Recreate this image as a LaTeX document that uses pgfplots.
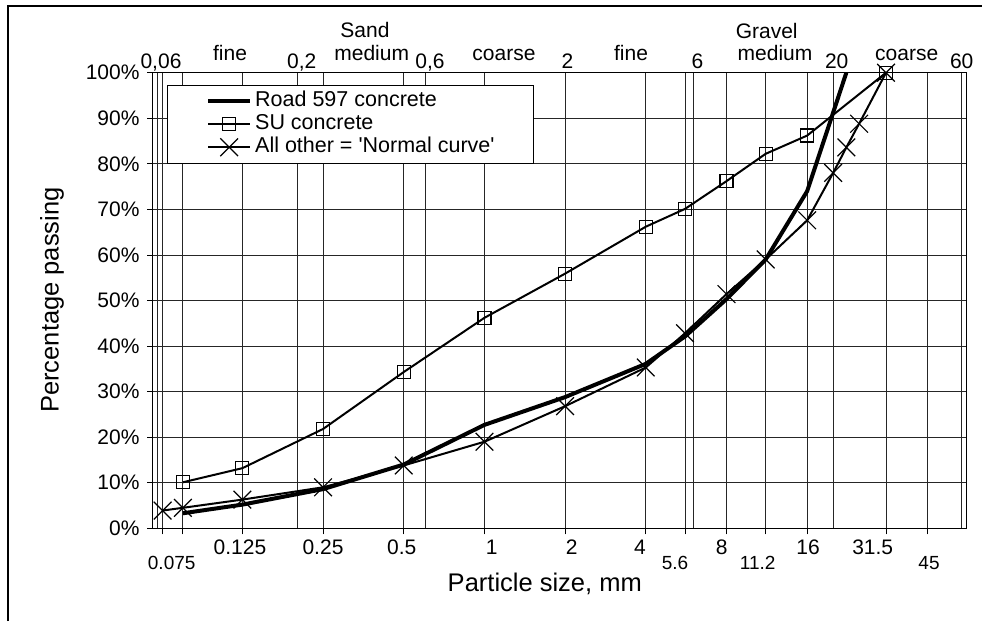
\documentclass[border=0pt]{standalone}
\usepackage{fontspec}
\setmainfont{Liberation Sans}
\usepackage{pgfplots}
\pgfplotsset{compat=1.18}
\begin{document}
\begin{tikzpicture}
\useasboundingbox (0pt,0pt) rectangle (982pt,-621pt);
\fill[white] (0pt,0pt) rectangle (982pt,-621pt);
\draw[line width=2pt] (8pt,-621pt) -- (8pt,-6pt) -- (983pt,-6pt);
\begin{axis}[
  at={(153pt,-528.3pt)}, anchor=south west,
  width=813.7pt, height=455.6pt, scale only axis,
  xmode=log, xmin=0.058, xmax=63, ymin=0, ymax=100,
  xtick={0.063,0.075,0.125,0.25,0.5,1,2,4,5.6,8,11.2,16,31.5,45},
  xticklabel={\relax},
  extra x ticks={0.06,0.2,0.6,6,20,60},
  extra x tick style={major tick length=0pt, grid=major, xticklabel={\relax}},
  xmajorgrids, ymajorgrids,
  ytick={0,10,...,100},
  yticklabels={0\%,10\%,20\%,30\%,40\%,50\%,60\%,70\%,80\%,90\%,100\%},
  tick align=outside, major tick length=6pt,
  xtick pos=bottom, ytick pos=left,
  grid style={black!85, line width=0.8pt},
  axis line style={black, line width=1pt},
  tick style={black, line width=0.8pt},
  yticklabel style={font=\fontsize{21}{24}\selectfont, xshift=-4pt},
  clip mode=individual,
  legend cell align=left,
  legend image code/.code={\draw[mark repeat=2,mark phase=2] plot coordinates {(0pt,0pt) (21pt,0pt) (42pt,0pt)};},
  legend style={at={(0.0168,0.973)}, anchor=north west, draw=black, line width=1pt, fill=white,
    inner xsep=39pt, inner ysep=6pt, font=\fontsize{21.5}{24}\selectfont,
    row sep=3.5pt, column sep=3pt,
    nodes={inner sep=0pt, text height=15pt, text depth=4.5pt}},
]
\addplot[black, line width=4pt, mark=none] coordinates {
  (0.075,3.3) (0.125,5.2) (0.25,8.6) (0.5,14) (1,22.7) (2,28.8) (4,36.1)
  (5.6,42.1) (8,50.3) (11.2,59) (16,74) (22.4,100)};
\addlegendentry{Road 597 concrete}
\addplot[black, line width=2pt, mark=square, mark size=6.5pt, mark options={line width=1.2pt}] coordinates {
  (0.075,10.1) (0.125,13.2) (0.25,21.8) (0.5,34.3) (1,46.2) (2,55.9) (4,66.2)
  (5.6,70.1) (8,76.2) (11.2,82.2) (16,86.2) (31.5,100)};
\addlegendentry{SU concrete}
\addplot[black, line width=2pt, mark=x, mark size=12.5pt, mark options={line width=1.2pt}] coordinates {
  (0.063,3.9) (0.075,4.5) (0.125,6.3) (0.25,9) (0.5,13.8) (1,19) (2,26.8) (4,35.3)
  (5.6,42.8) (8,51.4) (11.2,59) (16,67.6) (20,78) (22.4,83.6) (25,88.8) (31.5,100)};
\addlegendentry{All other = \textquotesingle Normal curve\textquotesingle}
\end{axis}
% top classification labels
\begin{scope}[every node/.style={font=\fontsize{21}{24}\selectfont, anchor=base, inner sep=0pt}]
\node at (161pt,-68.3pt) {0,06};
\node at (301.7pt,-68.3pt) {0,2};
\node at (430pt,-68.3pt) {0,6};
\node at (567.5pt,-68.3pt) {2};
\node at (697.5pt,-68.3pt) {6};
\node at (836.7pt,-68.3pt) {20};
\node at (961.7pt,-68.3pt) {60};
\node at (230pt,-60pt) {fine};
\node at (371.7pt,-60pt) {medium};
\node at (504pt,-60pt) {coarse};
\node at (631pt,-60pt) {fine};
\node at (775pt,-60pt) {medium};
\node at (906.7pt,-60pt) {coarse};
\node at (365pt,-37.5pt) {Sand};
\node at (766.7pt,-38pt) {Gravel};
% bottom tick labels, upper row
\node at (240pt,-554pt) {0.125};
\node at (323pt,-554pt) {0.25};
\node at (401.7pt,-554pt) {0.5};
\node at (491.7pt,-554pt) {1};
\node at (571.7pt,-554pt) {2};
\node at (640pt,-554pt) {4};
\node at (721.7pt,-554pt) {8};
\node at (808pt,-554pt) {16};
\node at (872.7pt,-554pt) {31.5};
\end{scope}
\begin{scope}[every node/.style={font=\fontsize{19}{22}\selectfont, anchor=base, inner sep=0pt}]
\node at (171.7pt,-569pt) {0.075};
\node at (675pt,-569pt) {5.6};
\node at (757.7pt,-569pt) {11.2};
\node at (929pt,-569pt) {45};
\end{scope}
\node[font=\fontsize{25.5}{28}\selectfont, anchor=base, inner sep=0pt] at (544.8pt,-591.5pt) {Particle size, mm};
\node[font=\fontsize{25.5}{28}\selectfont, rotate=90, inner sep=0pt] at (52pt,-300pt) {Percentage passing};
\end{tikzpicture}
\end{document}
